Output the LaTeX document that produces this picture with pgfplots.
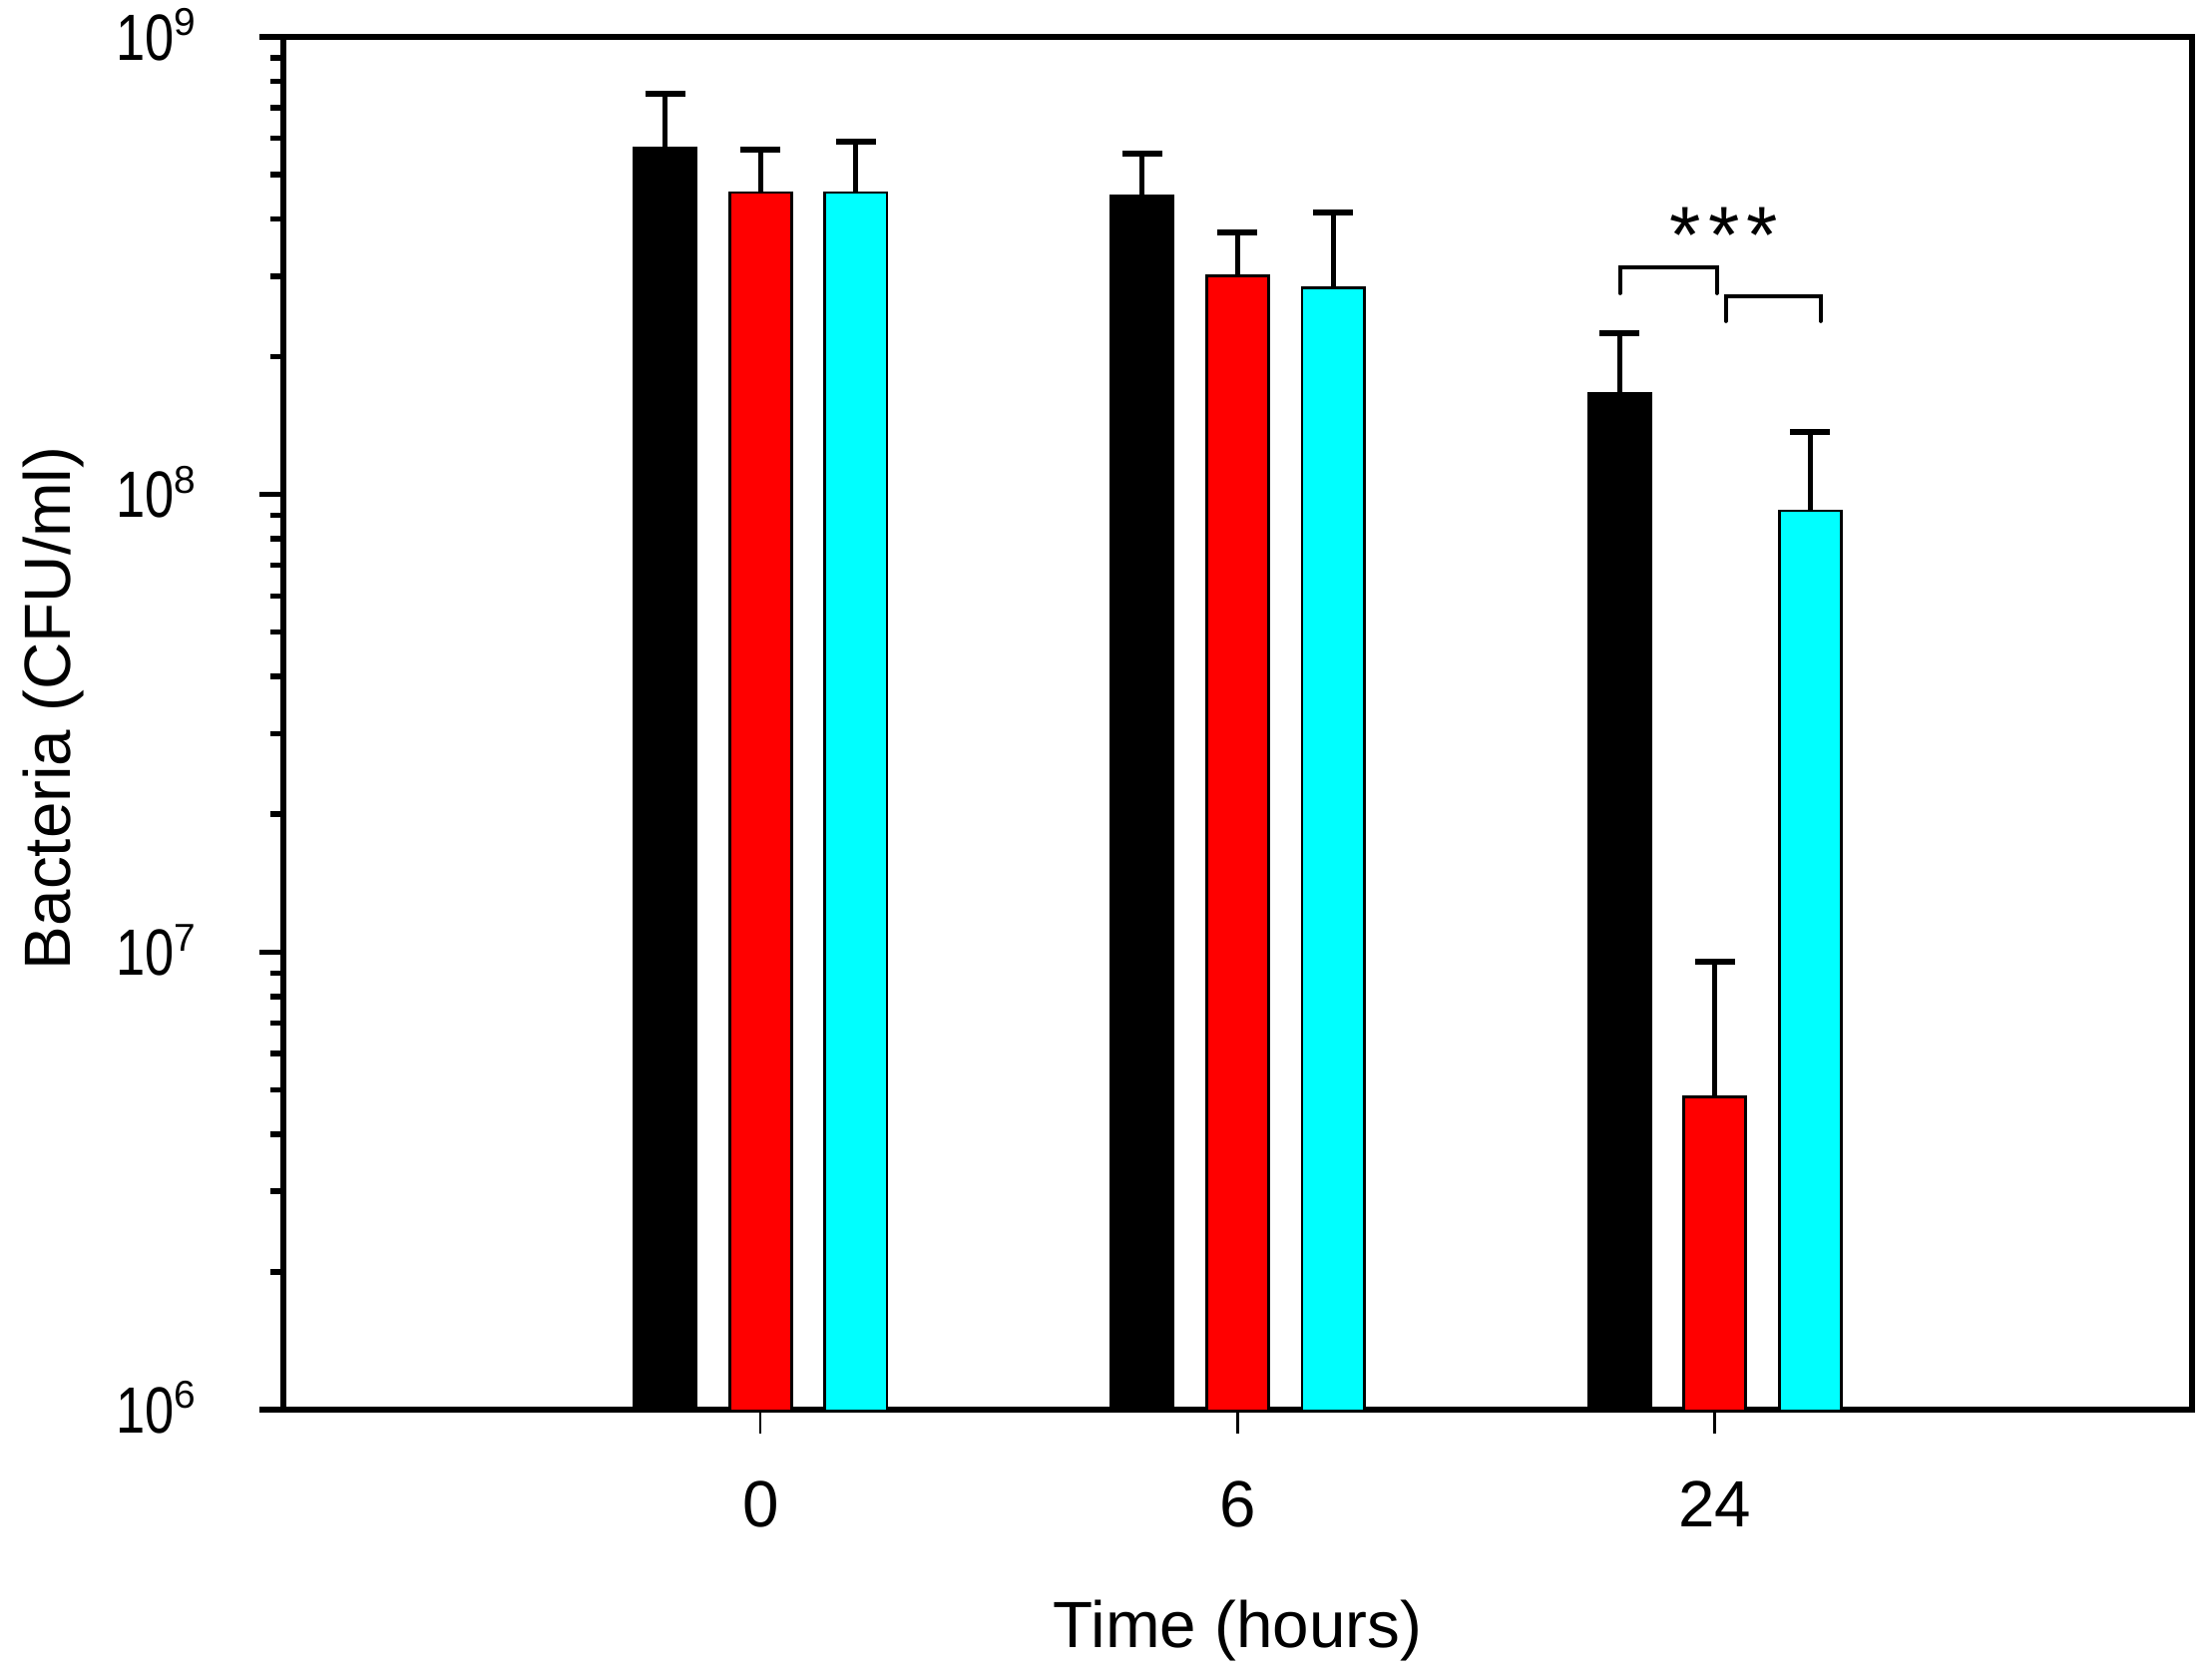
\documentclass[border=0pt]{standalone}
\usepackage{fontspec}
\setmainfont{Liberation Sans}
\usepackage{graphicx}
\usepackage{pgfplots}
\pgfplotsset{compat=1.18}
\definecolor{cyanbar}{RGB}{0,255,255}
\definecolor{redbar}{RGB}{255,0,0}
\newcommand{\tenp}[1]{\scalebox{0.8}[1]{10}\raisebox{4.4pt}{\fontsize{7}{8}\selectfont #1}}
\begin{document}
\begin{tikzpicture}
\begin{axis}[
  scale only axis,
  width=344.34pt, height=247.68pt,
  at={(0,0)}, anchor=south west,
  xmin=-1, xmax=3,
  ymode=log, ymin=1e6, ymax=1e9,
  xtick={0,1,2}, xticklabels={0,6,24},
  ytick={1e6,1e7,1e8,1e9},
  yticklabels={\tenp{6},\tenp{7},\tenp{8},\tenp{9}},
  xtick pos=lower, ytick pos=left,
  tick align=outside,
  major tick length=4.3pt, minor tick length=2.4pt,
  axis line style={line width=1.2pt},
  x tick style={line width=0.45pt, black},
  y tick style={line width=1pt, black},
  minor y tick style={line width=1pt, black},
  tick label style={font=\fontsize{11.8}{14}\selectfont, inner sep=0pt},
  xticklabel style={anchor=center, yshift=-12.8pt},
  yticklabel style={anchor=base east, xshift=-11.3pt, yshift=-4.2pt},
  xlabel={Time (hours)}, ylabel={Bacteria (CFU/ml)},
  label style={font=\fontsize{11.8}{14}\selectfont},
  xlabel style={at={(axis description cs:0.5,-0.1736)}, anchor=base},
  ylabel style={at={(axis description cs:-0.1118,0.511)}, anchor=base},
  ybar, bar width=0.13,
  error bars/y dir=plus, error bars/y explicit,
  error bars/error bar style={line width=0.9pt, black},
  error bars/error mark options={rotate=90, mark size=3.6pt, line width=1pt, black},
]
\addplot[fill=black, draw=black, line width=0.5pt, bar shift=-0.2]
  coordinates {(0,5.73e8) +- (0,1.78e8) (1,4.50e8) +- (0,1.06e8) (2,1.66e8) +- (0,0.59e8)};
\addplot[fill=redbar, draw=black, line width=0.5pt, bar shift=0]
  coordinates {(0,4.57e8) +- (0,1.10e8) (1,3.01e8) +- (0,0.73e8) (2,4.82e6) +- (0,4.71e6)};
\addplot[fill=cyanbar, draw=black, line width=0.5pt, bar shift=0.2]
  coordinates {(0,4.57e8) +- (0,1.34e8) (1,2.83e8) +- (0,1.30e8) (2,9.21e7) +- (0,4.49e7)};
\draw[line width=0.7pt, line cap=round] (axis cs:1.801,2.753e8) -- (axis cs:1.801,3.137e8) -- (axis cs:2.004,3.137e8) -- (axis cs:2.004,2.753e8);
\draw[line width=0.7pt, line cap=round] (axis cs:2.023,2.392e8) -- (axis cs:2.023,2.712e8) -- (axis cs:2.222,2.712e8) -- (axis cs:2.222,2.392e8);
\node[anchor=base, inner sep=0pt, font=\fontsize{14.5}{15}\selectfont] at (axis cs:2.019,3.2e8) {*\hspace{1.3pt}*\hspace{1.3pt}*};
\end{axis}
\pgfresetboundingbox
\path (-51.12pt,-48.24pt) rectangle (347.94pt,254.34pt);
\end{tikzpicture}
\end{document}
